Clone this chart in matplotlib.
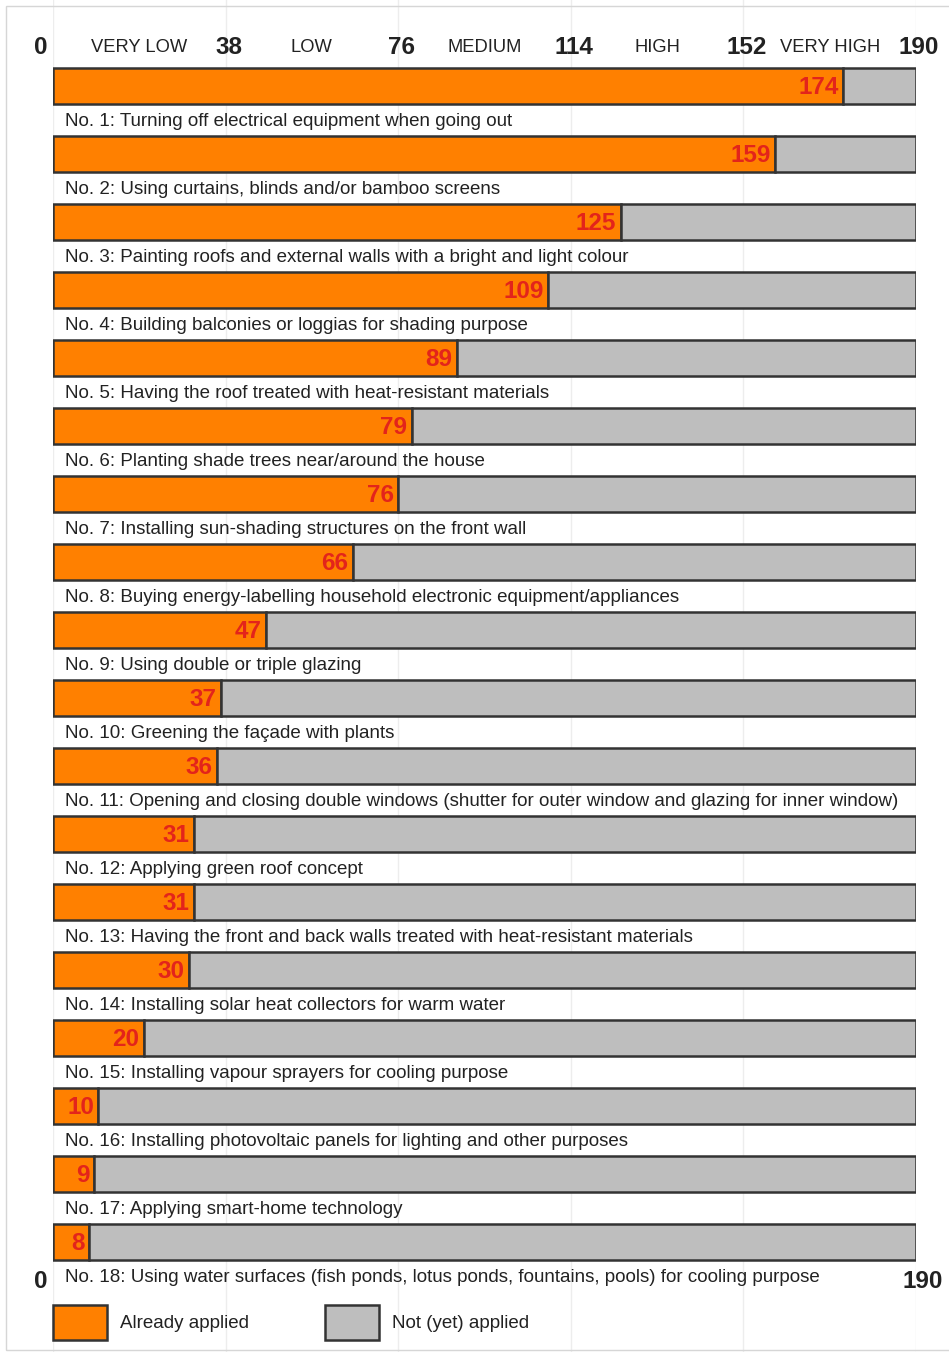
import matplotlib
matplotlib.use('Agg')
import matplotlib.pyplot as plt
from matplotlib.patches import Rectangle

plt.rcParams['font.family'] = ['Liberation Sans', 'DejaVu Sans']

measures = [
    "No. 1: Turning off electrical equipment when going out",
    "No. 2: Using curtains, blinds and/or bamboo screens",
    "No. 3: Painting roofs and external walls with a bright and light colour",
    "No. 4: Building balconies or loggias for shading purpose",
    "No. 5: Having the roof treated with heat-resistant materials",
    "No. 6: Planting shade trees near/around the house",
    "No. 7: Installing sun-shading structures on the front wall",
    "No. 8: Buying energy-labelling household electronic equipment/appliances",
    "No. 9: Using double or triple glazing",
    "No. 10: Greening the façade with plants",
    "No. 11: Opening and closing double windows (shutter for outer window and glazing for inner window)",
    "No. 12: Applying green roof concept",
    "No. 13: Having the front and back walls treated with heat-resistant materials",
    "No. 14: Installing solar heat collectors for warm water",
    "No. 15: Installing vapour sprayers for cooling purpose",
    "No. 16: Installing photovoltaic panels for lighting and other purposes",
    "No. 17: Applying smart-home technology",
    "No. 18: Using water surfaces (fish ponds, lotus ponds, fountains, pools) for cooling purpose",
]
applied = [174, 159, 125, 109, 89, 79, 76, 66, 47, 37, 36, 31, 31, 30, 20, 10, 9, 8]
total = 190
scale_ticks = [0, 38, 76, 114, 152, 190]
levels = ["VERY LOW", "LOW", "MEDIUM", "HIGH", "VERY HIGH"]
legend_labels = ["Already applied", "Not (yet) applied"]

ORANGE = '#FF8000'
GREY = '#BEBEBE'
EDGE = '#333333'
RED = '#E3241B'
TXT = '#222222'

W, H = 949, 1352
fig = plt.figure(figsize=(W / 100, H / 100), dpi=100)
fig.patch.set_facecolor('white')

x0, x1 = 53, 916
row0, pitch = 86, 68
ax = fig.add_axes([x0 / W, 0, (x1 - x0) / W, 1])
ax.set_xlim(0, total)
ax.set_ylim((H - row0) / pitch, -row0 / pitch)
ax.axis('off')

for t in scale_ticks:
    ax.axvline(t, color='#ededed', lw=1, zorder=0)

n = len(applied)
ys = list(range(n))
bh = 36 / pitch
not_applied = [total - a for a in applied]
ax.barh(ys, applied, height=bh, color=ORANGE, edgecolor=EDGE, lw=1.8, zorder=2)
ax.barh(ys, not_applied, left=applied, height=bh, color=GREY, edgecolor=EDGE, lw=1.8, zorder=2)

for i, (a, lab) in enumerate(zip(applied, measures)):
    ax.text(a - 1.0, i + 0.02, str(a), ha='right', va='center', color=RED,
            fontsize=17.5, fontweight='bold', zorder=3)
    ax.text(2.6, i + 0.515, lab, ha='left', va='center', color=TXT, fontsize=13.5, zorder=3)

ytop = -0.57
for t in scale_ticks:
    if t == 0:
        ax.text(-1.3, ytop, str(t), ha='right', va='center', fontsize=17.5, fontweight='bold', color=TXT)
    else:
        ax.text(t + 0.7, ytop, str(t), ha='center', va='center', fontsize=17.5, fontweight='bold', color=TXT)
for j, lv in enumerate(levels):
    mid = (scale_ticks[j] + scale_ticks[j + 1]) / 2
    ax.text(mid, ytop, lv, ha='center', va='center', fontsize=13.2, color=TXT)

ybot = (1282 - row0) / pitch
ax.text(-1.3, ybot, str(scale_ticks[0]), ha='right', va='center', fontsize=17.5, fontweight='bold', color=TXT)
ax.text(scale_ticks[-1] + 1.5, ybot, str(scale_ticks[-1]), ha='center', va='center', fontsize=17.5, fontweight='bold', color=TXT)

# legend
def fx(px):
    return px / W

def fy(py):
    return 1 - py / H

for (lx, col, lab) in [(53, ORANGE, legend_labels[0]), (325, GREY, legend_labels[1])]:
    fig.patches.append(Rectangle((fx(lx), fy(1340)), 54 / W, 35 / H, transform=fig.transFigure,
                                 facecolor=col, edgecolor=EDGE, lw=1.8))
    fig.text(fx(lx + 67), fy(1324), lab, ha='left', va='center', fontsize=13.5, color=TXT)

# outer light frame
fig.patches.append(Rectangle((fx(6), fy(1350)), 2, 1344 / H, transform=fig.transFigure,
                             facecolor='none', edgecolor='#d6d6d6', lw=1))

fig.savefig('out.png', dpi=100)
